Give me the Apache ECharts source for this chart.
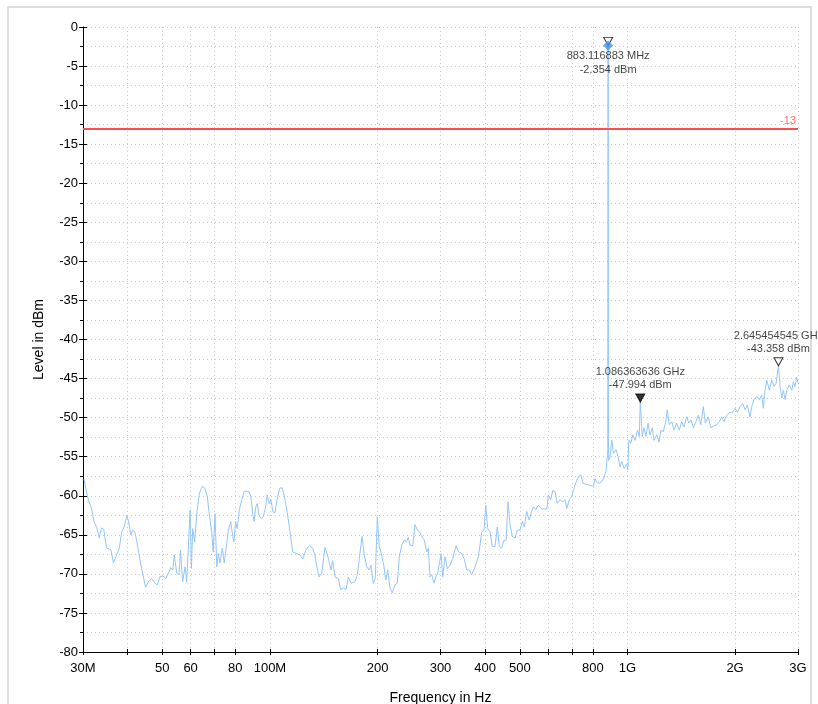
<!DOCTYPE html>
<html><head><meta charset="utf-8">
<script src="https://cdn.jsdelivr.net/npm/echarts@6/dist/echarts.min.js"></script>
<style>html,body{margin:0;padding:0;background:#fff}#c{width:818px;height:704px}</style>
</head><body><div id="c"></div>
<script>
const freqMHz = [30.2,30.8,31.2,31.7,32.2,32.8,33.3,33.8,34.3,34.9,35.9,36.5,37.1,37.9,38.5,39.1,39.8,40.3,40.8,41.3,41.9,42.6,43.3,44.1,44.9,45.7,46.7,47.7,48.4,49.3,50.3,51.2,52.0,52.8,53.5,54.0,54.9,55.7,56.2,57.0,57.9,58.5,59.1,59.8,60.3,60.8,61.6,62.4,63.5,64.6,65.7,66.8,67.7,68.7,69.4,70.2,71.0,71.7,72.5,73.6,74.5,75.7,76.5,77.7,78.7,79.3,80.2,81.0,82.1,83.4,84.6,86.1,87.4,88.5,89.5,90.3,91.3,92.2,93.2,94.4,95.8,97.1,98.3,99.4,100.7,101.8,103.3,104.9,106.7,108.3,110.2,111.9,113.8,115.8,118.8,121.4,123.5,126.2,128.9,131.7,133.7,135.2,137.2,139.6,142.6,145.7,148.2,149.8,152.1,155.4,157.8,160.4,163.3,165.7,168.6,173.0,175.6,177.9,181.0,183.7,186.5,189.3,191.7,194.6,197.1,199.7,202.3,205.4,208.5,210.8,213.5,216.7,219.9,223.8,227.1,230.1,233.7,237.2,241.3,243.8,246.5,250.8,254.6,258.4,261.8,265.8,270.3,274.5,277.4,280.4,283.5,287.8,290.9,294.7,297.7,301.0,304.3,308.8,313.4,318.9,324.5,331.5,337.3,343.9,349.7,355.2,361.2,366.8,374.7,382.7,387.0,391.2,397.1,401.5,406.7,412.7,418.9,426.2,432.6,438.2,445.0,451.7,457.6,463.5,469.5,476.5,484.9,492.1,500.8,508.3,514.9,522.9,530.7,537.6,545.6,554.1,563.5,575.9,594.8,600.9,610.3,618.2,627.5,636.8,648.0,659.4,669.3,676.6,688.0,698.8,709.2,721.7,730.0,740.5,750.1,761.3,777.7,789.8,803.1,812.0,820.9,834.8,847.8,860.5,871.6,881.2,883.116883,884.9,894.4,904.2,913.6,929.6,943.5,953.9,964.4,978.8,996.0,1002.4,1008.9,1022.0,1035.2,1050.7,1066.4,1079.3,1086.363636,1100.5,1112.6,1127.0,1141.6,1156.4,1173.7,1186.6,1207.4,1225.4,1241.3,1259.9,1282.0,1292.8,1309.6,1330.0,1349.8,1373.5,1396.7,1418.5,1439.7,1465.0,1484.0,1506.2,1528.7,1555.5,1578.7,1603.3,1630.4,1651.6,1683.8,1710.0,1738.9,1777.4,1807.4,1835.6,1863.1,1895.8,1936.5,1970.5,2000.0,2029.8,2065.4,2101.7,2133.1,2164.9,2202.9,2227.2,2260.4,2300.1,2338.9,2375.4,2400.0,2426.5,2453.2,2494.6,2533.5,2571.4,2604.7,2645.454545,2672.6,2702.1,2730.0,2760.1,2790.4,2837.5,2881.8,2911.7,2942.6,2975.0,3000];
const levelDbm = [-57.9,-59.9,-60.8,-61.6,-63.3,-64.1,-65.4,-64.1,-64.3,-66.7,-66.9,-68.6,-67.8,-66.7,-64.6,-64.0,-62.5,-63.5,-65.0,-64.4,-64.6,-66.3,-68.2,-70.1,-71.7,-71.0,-70.6,-71.2,-71.4,-70.3,-70.3,-70.6,-69.9,-69.2,-69.5,-67.6,-69.9,-70.1,-67.0,-71.0,-69.1,-71.0,-66.9,-61.8,-69.3,-64.2,-65.9,-62.3,-59.7,-58.8,-59.0,-60.1,-62.5,-64.6,-67.2,-62.3,-69.1,-67.4,-68.6,-66.7,-68.6,-66.1,-64.4,-63.3,-65.2,-65.9,-63.3,-64.2,-61.8,-60.5,-59.5,-59.4,-59.5,-60.1,-62.3,-63.3,-61.4,-61.0,-62.5,-62.9,-62.7,-61.6,-59.9,-61.0,-60.5,-62.0,-62.2,-60.3,-59.0,-59.0,-60.5,-62.3,-64.6,-67.2,-67.4,-67.6,-68.1,-66.9,-66.4,-66.7,-67.6,-69.1,-70.4,-69.9,-66.6,-68.0,-69.5,-68.3,-70.4,-70.6,-72.0,-71.8,-72.0,-70.4,-71.2,-71.0,-70.1,-68.0,-65.2,-67.6,-69.1,-69.5,-68.9,-71.2,-70.6,-62.7,-66.5,-67.6,-69.1,-70.8,-69.5,-71.8,-72.4,-71.4,-71.2,-67.8,-66.3,-65.7,-65.9,-65.3,-66.3,-66.4,-63.7,-64.4,-64.6,-65.2,-65.7,-67.2,-66.7,-70.4,-70.1,-71.2,-70.4,-69.9,-70.1,-67.4,-70.4,-67.8,-69.3,-68.9,-68.0,-66.4,-67.2,-67.4,-68.1,-69.5,-69.5,-70.1,-69.1,-67.8,-66.3,-64.6,-64.4,-61.2,-64.2,-64.6,-66.5,-66.5,-64.0,-66.5,-66.7,-65.7,-65.7,-60.8,-63.7,-65.2,-65.4,-64.4,-64.4,-63.3,-64.0,-62.0,-63.1,-62.3,-61.4,-61.8,-61.2,-61.7,-61.7,-59.9,-60.5,-59.3,-59.5,-61.0,-60.5,-60.8,-60.5,-61.6,-60.5,-60.1,-59.0,-58.0,-57.6,-57.3,-58.4,-58.5,-58.6,-58.7,-58.8,-57.8,-58.3,-58.4,-58.2,-57.6,-56.8,-54.1,-2.354,-55.5,-55.0,-52.9,-54.6,-54.1,-55.2,-56.3,-55.6,-56.5,-55.9,-56.7,-52.9,-53.3,-52.2,-52.9,-51.6,-52.4,-47.994,-52.4,-51.3,-52.4,-50.7,-52.2,-51.3,-52.9,-52.2,-53.1,-51.6,-51.8,-50.3,-49.0,-50.9,-50.5,-51.6,-50.7,-51.6,-50.5,-51.2,-49.9,-50.7,-50.3,-51.3,-50.5,-49.7,-50.9,-48.6,-50.7,-49.9,-51.3,-51.1,-50.9,-50.5,-49.9,-50.5,-49.7,-49.3,-49.3,-48.8,-49.3,-48.6,-48.2,-49.0,-48.4,-49.9,-48.6,-47.7,-47.3,-47.7,-47.1,-48.8,-46.5,-45.2,-46.5,-45.2,-46.0,-45.6,-43.358,-46.0,-47.5,-46.5,-47.7,-46.5,-45.8,-46.5,-45.4,-46.0,-44.8,-45.6];

const xTickValues = [30,40,50,60,70,80,100,200,300,400,500,600,700,800,1000,2000,3000];
const xLabelValues = [30,50,60,80,100,200,300,400,500,800,1000,2000,3000];
const xLabelTexts = ['30M','50','60','80','100M','200','300','400','500','800','1G','2G','3G'];
const markerFreqMHz = [883.116883, 1086.363636, 2645.454545];
const markerLevelDbm = [-2.354, -47.994, -43.358];
const markerFilled = [false, true, false];
const limitLevel = -13;

const FONT = "'Liberation Sans', Arial, sans-serif";
const trace = freqMHz.map((f, i) => [f, levelDbm[i]]);

function freqText(f) {
  return f < 1000 ? f.toFixed(6) + ' MHz' : (f / 1000).toFixed(9) + ' GHz';
}
function xLabel(v) {
  let best = 0, bd = Infinity;
  xLabelValues.forEach((t, i) => { const d = Math.abs(Math.log(t) - Math.log(v)); if (d < bd) { bd = d; best = i; } });
  return xLabelTexts[best];
}

const markerData = markerFreqMHz.map((f, i) => ({
  value: [f, markerLevelDbm[i]],
  itemStyle: { color: markerFilled[i] ? '#000' : '#fff', borderColor: '#000', borderWidth: 1 },
  label: {
    show: true,
    position: 'inside',
    offset: [0, i === 0 ? 22 : -19],
    formatter: freqText(f) + '\n' + markerLevelDbm[i].toFixed(3) + ' dBm',
    color: '#111', fontSize: 11, lineHeight: i === 0 ? 14 : 13, fontFamily: FONT
  }
}));

const gridDot = { color: '#c9c9c9', width: 1, type: [1, 3] };

const chart = echarts.init(document.getElementById('c'), null, { renderer: 'canvas' });
chart.setOption({
  animation: false,
  backgroundColor: '#fff',
  textStyle: { fontFamily: FONT },
  graphic: [{
    type: 'rect', silent: true, z: -10,
    shape: { x: 8, y: 7, width: 803, height: 720 },
    style: { fill: 'none', stroke: '#d2d2d2', lineWidth: 1.5 }
  }],
  grid: { left: 83, right: 20, top: 27, bottom: 52, outerBoundsMode: 'none', containLabel: false },
  xAxis: [{
    type: 'log', logBase: 10, min: 30, max: 3000,
    name: 'Frequency in Hz', nameLocation: 'middle', nameGap: 39,
    nameTextStyle: { fontSize: 14, color: '#000', fontFamily: FONT },
    axisLine: { onZero: false, lineStyle: { color: '#000', width: 1 } },
    axisTick: { show: true, length: 3, customValues: xTickValues, lineStyle: { color: '#000' } },
    axisLabel: { customValues: xLabelValues, formatter: (v) => xLabel(v), fontSize: 13, color: '#000', margin: 10, fontFamily: FONT },
    splitLine: { show: true, lineStyle: gridDot },
    minorTick: { show: false }, minorSplitLine: { show: false }
  }, {
    type: 'log', logBase: 10, min: 30, max: 3000, position: 'bottom', offset: 0,
    axisLine: { show: false, onZero: false },
    axisTick: { show: true, inside: true, length: 3, customValues: xTickValues, lineStyle: { color: '#000' } },
    axisLabel: { show: false }, splitLine: { show: false }
  }],
  yAxis: [{
    type: 'value', min: -80, max: 0, interval: 5,
    name: 'Level in dBm', nameLocation: 'middle', nameGap: 37, nameRotate: 90,
    nameTextStyle: { fontSize: 14, color: '#000', fontFamily: FONT },
    axisLine: { show: true, onZero: false, lineStyle: { color: '#000', width: 1 } },
    axisTick: { show: true, length: 4, lineStyle: { color: '#000' } },
    minorTick: { show: true, splitNumber: 2, length: 3, lineStyle: { color: '#000' } },
    axisLabel: { fontSize: 13, color: '#000', margin: 5, fontFamily: FONT },
    splitLine: { show: true, lineStyle: gridDot },
    minorSplitLine: { show: true, lineStyle: gridDot }
  }, {
    type: 'value', min: -80, max: 0, interval: 5, position: 'left', offset: 0,
    axisLine: { show: false, onZero: false },
    axisTick: { show: true, inside: true, length: 4, lineStyle: { color: '#000' } },
    minorTick: { show: false },
    axisLabel: { show: false }, splitLine: { show: false }
  }],
  series: [
    {
      type: 'line', data: trace, showSymbol: false, symbol: 'none',
      lineStyle: { color: '#93c6fb', width: 1 }, z: 3,
      markLine: {
        silent: true, symbol: 'none',
        lineStyle: { color: '#ff4d4d', width: 2, type: 'solid' },
        label: { show: true, position: 'insideEndTop', formatter: String(limitLevel), color: '#ff7070', fontSize: 11, distance: 2, fontFamily: FONT },
        data: [{ yAxis: limitLevel }]
      }
    },
    {
      type: 'scatter', data: markerData, symbol: 'triangle', symbolRotate: 180,
      symbolSize: [9, 8], symbolOffset: [0, -4], z: 5
    },
    {
      type: 'scatter', data: [[markerFreqMHz[0], markerLevelDbm[0]]], symbol: 'diamond',
      symbolSize: 10, itemStyle: { color: '#3f93e6' }, z: 6
    }
  ]
});
</script></body></html>
